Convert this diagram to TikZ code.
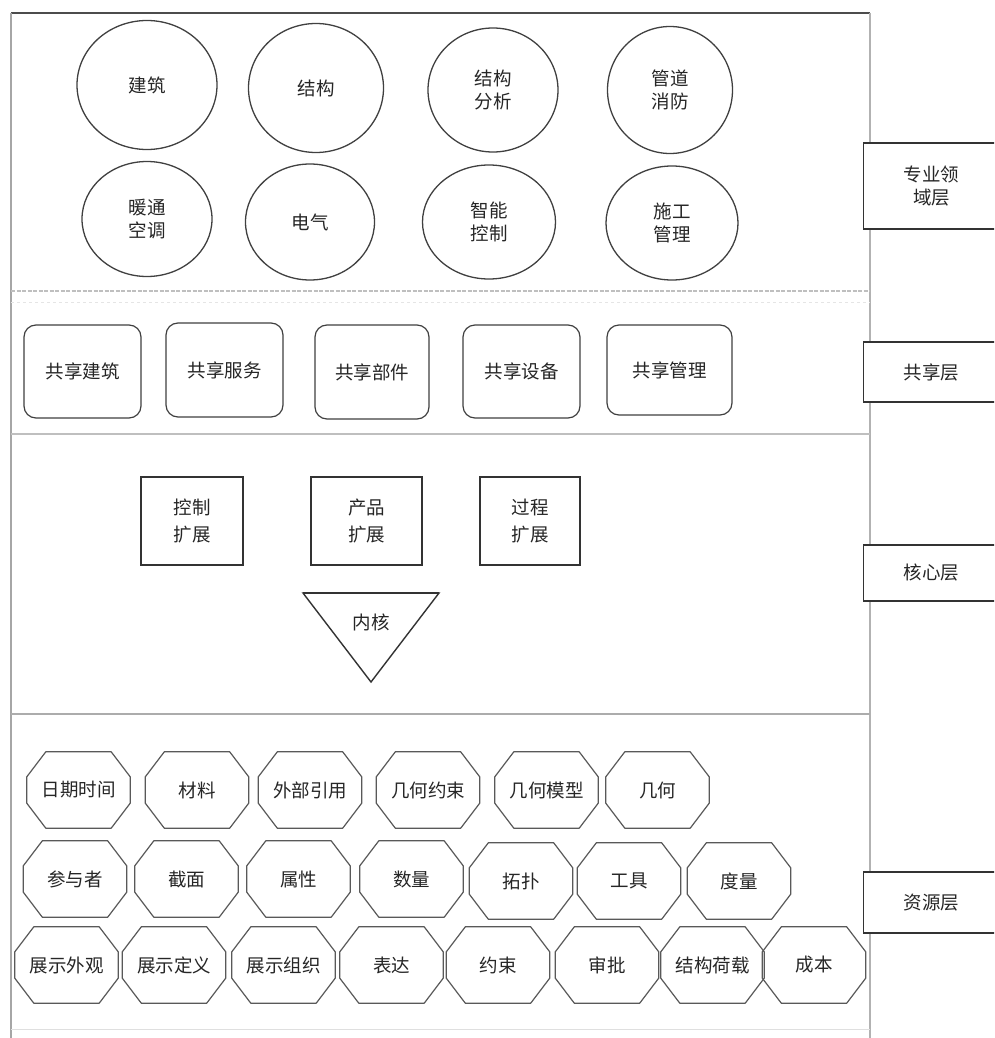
\documentclass[tikz,border=0pt]{standalone}
\usepackage{fontspec}
\newfontfamily\cjk{Noto Sans CJK SC}
\usetikzlibrary{shapes.geometric}
\begin{document}
\begin{tikzpicture}[x=1pt,y=-1pt,
  txt/.style={font=\cjk\fontsize{18.5}{23}\selectfont, text=black!85, align=center},
  domainell/.style={txt, ellipse, draw=black!75, line width=1.3pt, inner sep=0pt},
  sharebox/.style={txt, rectangle, rounded corners=12pt, draw=black!75, line width=1.2pt, inner sep=0pt},
  corebox/.style={txt, rectangle, draw=black!80, line width=1.7pt, inner sep=0pt, font=\cjk\fontsize{18.5}{27}\selectfont},
  octo/.style={txt, rectangle, inner sep=0pt, minimum width=103pt, minimum height=76pt},
  octline/.style={draw=black!65, line width=1.2pt, line join=round},
  layerbox/.style={txt, rectangle, draw=black!80, fill=white, line width=1.4pt, inner sep=0pt, minimum width=136pt, anchor=west},
  sepline/.style={line width=2pt, draw=gray!50}
]
\useasboundingbox (0,0) rectangle (994,1038);
\clip (0,0) rectangle (994,1038);
\fill[white] (0,0) rectangle (994,1038);

% frame
\draw[black!70, line width=1.4pt] (11,13) -- (870,13);
\draw[gray!70, line width=1.2pt] (11,13) -- (11,1038);
\draw[gray!60, line width=1.4pt] (870,13) -- (870,1038);
\draw[gray!25, line width=1pt] (11,1029) -- (870,1029);

% separators
\draw[sepline, dash pattern=on 4pt off 1.5pt] (11,291) -- (870,291);
\draw[gray!20, line width=1pt, dash pattern=on 3pt off 3pt] (11,302) -- (870,302);
\draw[sepline] (11,434) -- (870,434);
\draw[line width=1.9pt, draw=gray!65] (11,714) -- (870,714);

% domain layer
\node[domainell, minimum width=140pt, minimum height=129pt] (jz) at (147,85) {建筑};
\node[domainell, minimum width=135pt, minimum height=129pt] (jg) at (316,88) {结构};
\node[domainell, minimum width=130pt, minimum height=124pt] (fx) at (493,90) {结构\\分析};
\node[domainell, minimum width=125pt, minimum height=127pt] (gd) at (670,90) {管道\\消防};
\node[domainell, minimum width=130pt, minimum height=115pt] (nt) at (147,219) {暖通\\空调};
\node[domainell, minimum width=129pt, minimum height=116pt] (dq) at (310,222) {电气};
\node[domainell, minimum width=133pt, minimum height=114pt] (zn) at (489,222) {智能\\控制};
\node[domainell, minimum width=132pt, minimum height=114pt] (sg) at (672,223) {施工\\管理};

% shared layer
\node[sharebox, minimum width=117pt, minimum height=93pt] (s1) at (82.5,371.5) {共享建筑};
\node[sharebox, minimum width=117pt, minimum height=94pt] (s2) at (224.5,370) {共享服务};
\node[sharebox, minimum width=114pt, minimum height=94pt] (s3) at (372,372) {共享部件};
\node[sharebox, minimum width=117pt, minimum height=93pt] (s4) at (521.5,371.5) {共享设备};
\node[sharebox, minimum width=125pt, minimum height=90pt] (s5) at (669.5,370) {共享管理};

% core layer
\node[corebox, minimum width=102pt, minimum height=88pt] (c1) at (192,521) {控制\\扩展};
\node[corebox, minimum width=111pt, minimum height=88pt] (c2) at (366.5,521) {产品\\扩展};
\node[corebox, minimum width=100pt, minimum height=88pt] (c3) at (530,521) {过程\\扩展};
\coordinate (tl) at (303,593);
\coordinate (tr) at (439,593);
\coordinate (tb) at (371,682);
\draw[black!80, line width=1.4pt, line join=miter] (tl) -- (tr) -- (tb) -- cycle;
\draw[black!80, line width=2.8pt] (tl) -- (tr);
\node[txt] (kernel) at (371,622) {内核};

% resource layer
\foreach \n/\x/\y/\t in {
  r1/78.5/790/日期时间, r2/197/790/材料, r3/310/790/外部引用, r4/428/790/几何约束,
  r5/546.5/790/几何模型, r6/657.5/790/几何,
  q1/75/879/参与者, q2/186.5/879/截面, q3/298.5/879/属性, q4/411.5/879/数量,
  q5/521/881/拓扑, q6/629/881/工具, q7/739/881/度量,
  p1/66.5/965/展示外观, p2/174/965/展示定义, p3/283.5/965/展示组织, p4/391.5/965/表达,
  p5/498/965/约束, p6/607/965/审批, p7/712.5/965/结构荷载, p8/814/965/成本}
{
  \node[octo] (\n) at (\x,\y) {\t};
  \draw[octline] ([xshift=19pt]\n.north west) -- ([xshift=-19pt]\n.north east)
    -- ([yshift=-25pt]\n.north east) -- ([yshift=25pt]\n.south east)
    -- ([xshift=-19pt]\n.south east) -- ([xshift=19pt]\n.south west)
    -- ([yshift=25pt]\n.south west) -- ([yshift=-25pt]\n.north west) -- cycle;
}

% layer labels
\node[layerbox, minimum height=86pt] (L1) at (863,186) {专业领\\域层};
\node[layerbox, minimum height=60pt] (L2) at (863,372) {共享层};
\node[layerbox, minimum height=56pt] (L3) at (863,573) {核心层};
\node[layerbox, minimum height=61pt] (L4) at (863,902.5) {资源层};
\end{tikzpicture}
\end{document}
